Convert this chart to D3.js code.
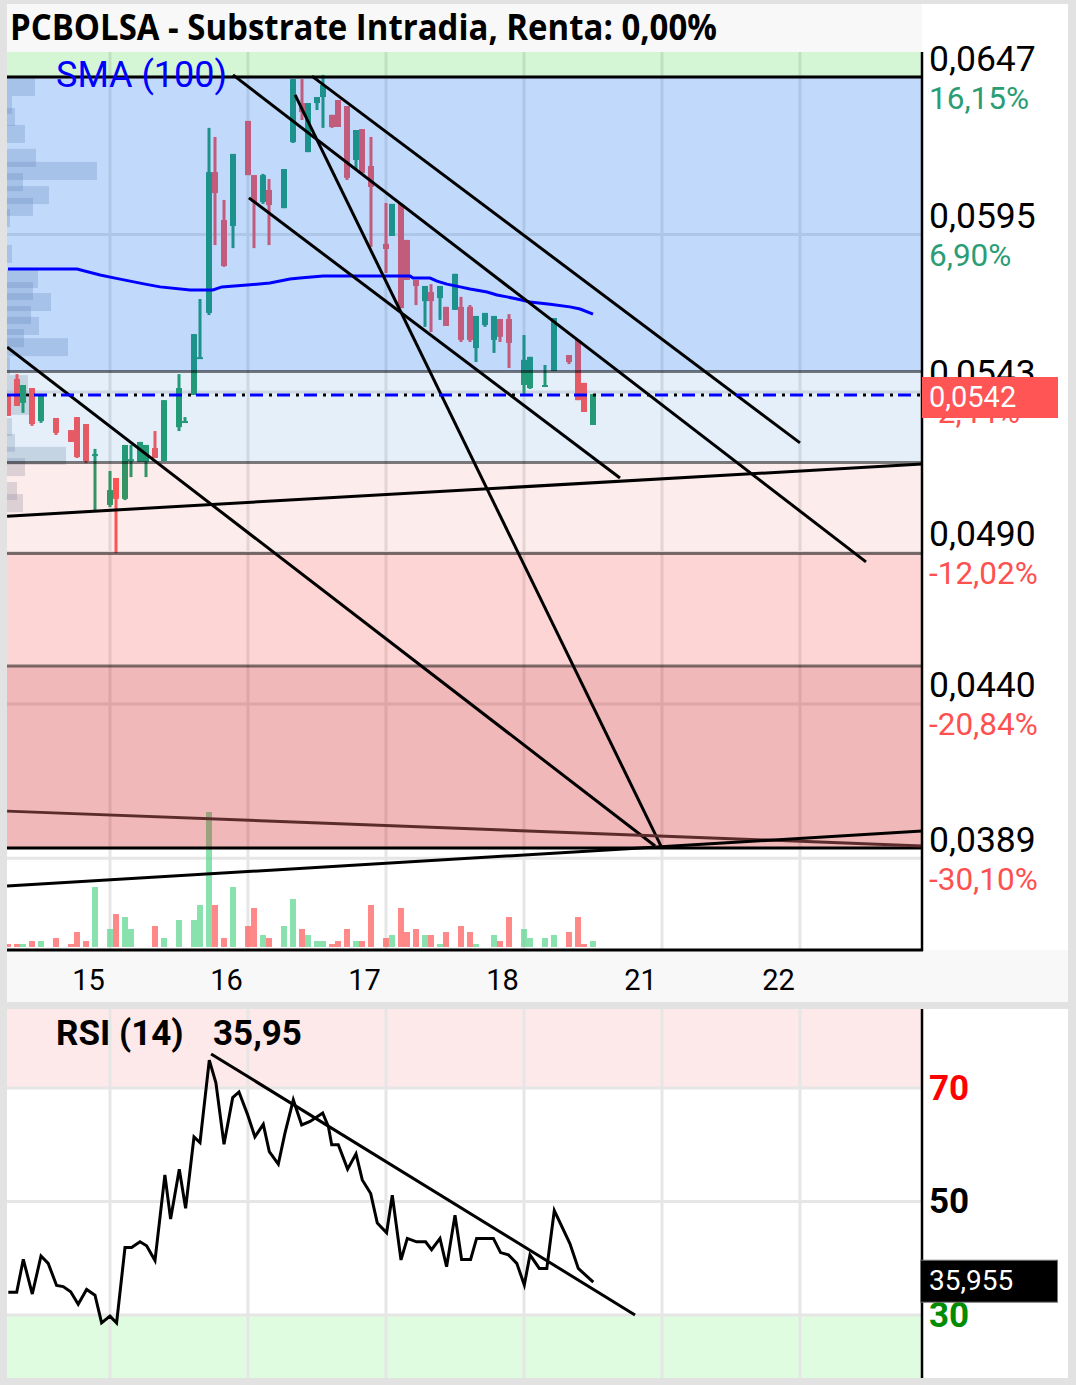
<!DOCTYPE html>
<html><head><meta charset="utf-8">
<script src="https://cdn.jsdelivr.net/npm/d3@7"></script>
<style>body{margin:0;background:#e2e2e2}svg{display:block}</style>
</head><body><svg id="c" width="1076" height="1385"></svg>
<script>
// ---------------- DATA ----------------
const titleText = "PCBOLSA - Substrate Intradia, Renta: 0,00%";
const dayLabels = ["15","16","17","18","21","22"];
const daySlots = [0,46,92,138,184,230];

const candleSlot = [-34,-31,-29,-26,-23,-18,-13,-11,-8,-5,0,2,5,7,10,12,15,18,23,25,28,30,33,35,38,41,46,48,51,53,58,61,64,66,69,71,74,76,79,82,84,87,92,94,97,99,102,105,107,110,112,115,117,120,122,125,128,130,133,138,140,145,148,153,156,158,161];
const candleOpen = [0.05420,0.05473,0.05394,0.05443,0.05334,0.05344,0.05304,0.05347,0.05324,0.05222,0.05057,0.05146,0.05077,0.05205,0.05199,0.05199,0.05245,0.05202,0.05314,0.05331,0.05420,0.05539,0.05691,0.06156,0.05998,0.05978,0.06325,0.06146,0.06057,0.06097,0.06037,0.06255,0.06384,0.06222,0.06384,0.06404,0.06345,0.06394,0.06374,0.06196,0.06298,0.06176,0.05919,0.05945,0.06051,0.05932,0.05800,0.05730,0.05760,0.05740,0.05711,0.05701,0.05711,0.05711,0.05575,0.05651,0.05602,0.05671,0.05671,0.05453,0.05443,0.05450,0.05499,0.05552,0.05602,0.05460,0.05321];
const candleHigh = [0.05420,0.05489,0.05453,0.05443,0.05423,0.05344,0.05304,0.05347,0.05324,0.05242,0.05169,0.05146,0.05255,0.05255,0.05265,0.05255,0.05301,0.05403,0.05489,0.05347,0.05621,0.05737,0.06302,0.06272,0.06064,0.06216,0.06325,0.06146,0.06150,0.06133,0.06166,0.06463,0.06463,0.06384,0.06404,0.06477,0.06345,0.06394,0.06374,0.06295,0.06298,0.06272,0.06054,0.06051,0.06051,0.05932,0.05800,0.05780,0.05786,0.05780,0.05711,0.05820,0.05744,0.05717,0.05681,0.05691,0.05681,0.05671,0.05687,0.05618,0.05546,0.05519,0.05674,0.05552,0.05602,0.05460,0.05423];
const candleLow = [0.05351,0.05384,0.05361,0.05318,0.05328,0.05288,0.05265,0.05212,0.05195,0.05040,0.05050,0.04898,0.05073,0.05149,0.05199,0.05149,0.05212,0.05202,0.05301,0.05331,0.05420,0.05539,0.05684,0.05915,0.05843,0.05905,0.06146,0.05905,0.06051,0.05915,0.06037,0.06252,0.06328,0.06222,0.06361,0.06302,0.06302,0.06305,0.06130,0.06163,0.06153,0.05909,0.05823,0.05945,0.05707,0.05800,0.05717,0.05645,0.05628,0.05668,0.05648,0.05701,0.05595,0.05595,0.05529,0.05645,0.05559,0.05595,0.05509,0.05420,0.05440,0.05450,0.05499,0.05522,0.05403,0.05364,0.05321];
const candleClose = [0.05351,0.05384,0.05453,0.05324,0.05423,0.05295,0.05265,0.05215,0.05202,0.05225,0.05106,0.05077,0.05255,0.05208,0.05265,0.05255,0.05212,0.05403,0.05443,0.05334,0.05621,0.05545,0.06156,0.06087,0.05846,0.06216,0.06146,0.06057,0.06146,0.06047,0.06166,0.06463,0.06354,0.06384,0.06404,0.06444,0.06305,0.06305,0.06137,0.06295,0.06153,0.06107,0.05902,0.06051,0.05707,0.05800,0.05780,0.05780,0.05730,0.05780,0.05648,0.05820,0.05602,0.05602,0.05681,0.05691,0.05681,0.05612,0.05592,0.05536,0.05546,0.05453,0.05674,0.05529,0.05403,0.05364,0.05423];
const candleVolume = [1,1,1,2,2,3,1,5,2,20,6,11,10,6,0,0,7,3,9,0,9,14,45,14,3,20,7,13,4,3,7,16,6,4,2,2,1,2,6,2,2,14,3,4,13,5,6,4,4,1,5,0,7,5,1,0,4,2,10,6,3,3,4,5,10,1,2];

const smaSlot = [-34,-11,-3.3,1.7,6.7,11.7,16.7,26.7,34.3,37.3,45.7,53.3,60,63.3,71,100,101,106.7,109,112.3,116.7,120,125.7,129,132.3,135.7,140,146.7,153.3,156.7,161];
const smaValue = [0.05836,0.05836,0.05816,0.05806,0.05796,0.05786,0.05777,0.05767,0.05767,0.05777,0.05783,0.05790,0.05803,0.05806,0.05813,0.05813,0.05806,0.05806,0.05796,0.05786,0.05777,0.05770,0.05760,0.05750,0.05744,0.05737,0.05727,0.05720,0.05711,0.05704,0.05687];

const rsiSlot = [-33.9,-31.1,-28.9,-25.9,-23,-20.6,-17.8,-15.6,-13.1,-10.6,-7.8,-5,-2.8,0,2.2,5,7.2,10,12.2,15,18.3,20.2,23.1,25.2,28,30,33.1,35.3,38,40.9,43,45.8,48.3,51.1,53.1,56.1,58.3,61.1,63.9,66.7,70.9,72.8,73.9,76.1,79.2,82,84.1,86.9,89.1,92.2,94.1,97,99.1,102.2,105.2,107.2,110,112.2,115,117.2,120.2,122.2,127.8,130.2,132.8,135.6,138.1,140,143.1,145.6,148.1,153.3,156.1,161.1];
const rsiValue = [34.0,34.0,39.8,33.7,40.4,39.1,35.2,35.0,34.1,31.9,34.5,33.5,28.6,29.8,28.6,41.9,41.9,42.9,42.2,39.6,54.7,46.9,55.7,48.8,61.4,60.4,74.9,70.9,60.1,68.3,69.3,65.4,61.4,63.6,58.8,56.6,62.0,67.9,63.5,64.1,65.6,63.2,60.0,60.0,55.7,58.4,53.8,51.4,46.2,44.5,51.1,39.7,43.5,42.9,42.9,41.5,43.5,38.5,47.6,39.8,39.8,43.5,43.5,41.0,40.6,39.1,35.3,40.6,38.2,38.2,48.4,42.6,38.2,35.8];

const trendStartSlot = [41,67.3,46.3,61.7,-34.3,-34.3,-34.3,-34.3];
const trendStartPrice = [0.06477,0.06473,0.06071,0.06411,0.05578,0.05020,0.04046,0.03799];
const trendEndSlot = [252,230,170,184,181.7,270.7,270.7,270.7];
const trendEndPrice = [0.04869,0.05262,0.05146,0.03924,0.03931,0.05192,0.03931,0.03980];

const rsiTrendSlot = [33.7,175];
const rsiTrendValue = [76.0,30.0];

const profilePrice = [0.06437,0.06378,0.06338,0.06282,0.06203,0.06160,0.06123,0.06080,0.06041,0.06004,0.05886,0.05803,0.05763,0.05727,0.05684,0.05648,0.05608,0.05578,0.05516,0.05456,0.05384,0.05314,0.05262,0.05219,0.05182,0.05103,0.05063];
const profileVolume = [28,5,8,18,29,90,16,42,26,3,5,31,26,44,24,32,17,61,3,21,28,5,8,59,18,10,16];

const fibHigh = 0.0647, fibLow = 0.03924;
const fibRatios = [0,0.382,0.5,0.618,0.764,1];

const priceTicks = [0.0647,0.0595,0.0543,0.0490,0.0440,0.0389];
const priceTickLabels = ["0,0647","0,0595","0,0543","0,0490","0,0440","0,0389"];
const pctLabels = ["16,15%","6,90%","-2,44%","-12,02%","-20,84%","-30,10%"];
const lastPrice = 0.0542, lastPriceLabel = "0,0542";
const rsiTicks = [70,50,30];
const rsiTickLabels = ["70","50","30"];
const rsiLast = 35.955, rsiLastLabel = "35,955", rsiHeaderValue = "35,95";

// ---------------- SCALES ----------------
const X0 = 7, X1 = 922;
const x = d3.scaleLinear().domain([-34.333, 270.667]).range([X0, X1]);
const y = d3.scaleLinear().domain([0.0647, 0.0542]).range([77, 395]);
const yv = d3.scaleLinear().domain([0, 45]).range([947, 812]);
const yr = d3.scaleLinear().domain([30, 70]).range([1315, 1088]);
const pw = d3.scaleLinear().domain([0, 90]).range([0, 90]);

const svg = d3.select("#c");
const FONT = "Roboto, 'Noto Sans', sans-serif";
const G = "#27a06e", R = "#ff5a5a";

// backgrounds
svg.append("rect").attr("width",1076).attr("height",1385).attr("fill","#e2e2e2");
svg.append("rect").attr("x",7).attr("y",4).attr("width",915).attr("height",48).attr("fill","#f8f8f8");
svg.append("rect").attr("x",922).attr("y",4).attr("width",146).attr("height",948).attr("fill","#fff");
svg.append("rect").attr("x",7).attr("y",52).attr("width",915).attr("height",898).attr("fill","#fff");
svg.append("rect").attr("x",7).attr("y",950).attr("width",1061).attr("height",52).attr("fill","#f8f8f8");
svg.append("rect").attr("x",7).attr("y",1009).attr("width",1061).attr("height",369).attr("fill","#fff");

const defs = svg.append("defs");
defs.append("clipPath").attr("id","mc").append("rect").attr("x",X0).attr("y",52).attr("width",X1-X0).attr("height",898);
defs.append("clipPath").attr("id","rc").append("rect").attr("x",X0).attr("y",1009).attr("width",X1-X0).attr("height",369);

// title
svg.append("text").attr("x",10).attr("y",40).text(titleText)
  .attr("font-family","'Open Sans', Roboto, sans-serif").attr("font-weight","bold").attr("font-size",35)
  .attr("textLength",707).attr("lengthAdjust","spacingAndGlyphs").attr("fill","#000");

// ---------------- MAIN PANEL ----------------
const main = svg.append("g").attr("clip-path","url(#mc)");

// grid
main.selectAll(".vg").data(daySlots).join("line").attr("class","vg")
  .attr("x1",d=>x(d)).attr("x2",d=>x(d)).attr("y1",52).attr("y2",950)
  .attr("stroke","#e6e6e6").attr("stroke-width",3);
main.selectAll(".hg").data(priceTicks).join("line").attr("class","hg")
  .attr("x1",X0).attr("x2",X1).attr("y1",d=>y(d)).attr("y2",d=>y(d))
  .attr("stroke","#e6e6e6").attr("stroke-width",3);

// volume profile
main.selectAll(".vp").data(profilePrice).join("rect").attr("class","vp")
  .attr("x",X0).attr("y",d=>y(d)-9).attr("height",18)
  .attr("width",(d,i)=>pw(profileVolume[i]))
  .attr("fill","rgb(120,135,160)").attr("fill-opacity",0.25);

// candles
const candles = candleSlot.map((s,i)=>({s,o:candleOpen[i],h:candleHigh[i],l:candleLow[i],c:candleClose[i],v:candleVolume[i]}));
const col = d => d.c >= d.o ? G : R;
main.selectAll(".wick").data(candles).join("rect").attr("class","wick")
  .attr("x",d=>x(d.s)-1.5).attr("width",3)
  .attr("y",d=>y(d.h)).attr("height",d=>Math.max(1,y(d.l)-y(d.h))).attr("fill",col);
main.selectAll(".body").data(candles).join("rect").attr("class","body")
  .attr("x",d=>x(d.s)-3).attr("width",6)
  .attr("y",d=>y(Math.max(d.o,d.c))).attr("height",d=>Math.max(2,Math.abs(y(d.o)-y(d.c)))).attr("fill",col);

// volume bars
main.selectAll(".vol").data(candles.filter(d=>d.v>0)).join("rect").attr("class","vol")
  .attr("x",d=>x(d.s)-3).attr("width",6)
  .attr("y",d=>yv(d.v)).attr("height",d=>yv(0)-yv(d.v))
  .attr("fill",d=>d.c>=d.o?"#5cd68f":"#ff5a5a").attr("fill-opacity",0.72);

// fib zones (translucent overlays)
const fibPrices = fibRatios.map(r=>fibHigh - r*(fibHigh-fibLow));
const zoneFills = ["rgba(0,200,0,0.17)","rgba(0,100,235,0.245)","rgba(0,100,200,0.105)","rgba(230,0,0,0.075)","rgba(240,0,0,0.165)","rgba(200,0,0,0.28)"];
const zoneEdges = [52].concat(fibPrices.map(p=>y(p)));
main.selectAll(".zone").data(zoneFills).join("rect").attr("class","zone")
  .attr("x",X0).attr("width",X1-X0)
  .attr("y",(d,i)=>zoneEdges[i]).attr("height",(d,i)=>zoneEdges[i+1]-zoneEdges[i])
  .attr("fill",d=>d);
main.selectAll(".fib").data(fibPrices).join("line").attr("class","fib")
  .attr("x1",X0).attr("x2",X1).attr("y1",d=>y(d)).attr("y2",d=>y(d))
  .attr("stroke",(d,i)=>(i===0||i===fibPrices.length-1)?"#000":"rgba(0,0,0,0.5)")
  .attr("stroke-width",3);

// SMA
const smaLine = d3.line().x(d=>x(d[0])).y(d=>y(d[1]));
main.append("path").datum(smaSlot.map((s,i)=>[s,smaValue[i]]))
  .attr("d",smaLine).attr("fill","none").attr("stroke","#0000ff").attr("stroke-width",3);

// trend lines
main.selectAll(".tl").data(trendStartSlot).join("line").attr("class","tl")
  .attr("x1",(d,i)=>x(trendStartSlot[i])).attr("y1",(d,i)=>y(trendStartPrice[i]))
  .attr("x2",(d,i)=>x(trendEndSlot[i])).attr("y2",(d,i)=>y(trendEndPrice[i]))
  .attr("stroke",(d,i)=>i===6?"#5c2c2c":"#000").attr("stroke-width",3);

// last price dashed line
main.append("line").attr("x1",X0).attr("x2",X1).attr("y1",y(lastPrice)).attr("y2",y(lastPrice))
  .attr("stroke","#0000ff").attr("stroke-width",3).attr("stroke-dasharray","13,14");
main.append("line").attr("x1",X0).attr("x2",X1).attr("y1",y(lastPrice)).attr("y2",y(lastPrice))
  .attr("stroke","#000").attr("stroke-width",3).attr("stroke-dasharray","3,24").attr("stroke-dashoffset",8);

// SMA label
svg.append("text").attr("x",56).attr("y",87).text("SMA (100)")
  .attr("font-family",FONT).attr("font-size",36).attr("fill","#0000ff");

// axis lines
svg.append("line").attr("x1",X1).attr("x2",X1).attr("y1",52).attr("y2",951).attr("stroke","#000").attr("stroke-width",2.5);
svg.append("line").attr("x1",X0).attr("x2",X1+1).attr("y1",950).attr("y2",950).attr("stroke","#000").attr("stroke-width",3);

// price axis
const pAxis = svg.append("g").attr("transform",`translate(${X1},0)`)
  .call(d3.axisRight(y).tickValues(priceTicks).tickFormat((d,i)=>priceTickLabels[i]).tickSize(0));
pAxis.select(".domain").remove();
pAxis.selectAll(".tick text").attr("x",7).attr("dy",0).attr("y",-7)
  .attr("font-family",FONT).attr("font-size",35.5).attr("fill","#000").attr("text-anchor","start");
pAxis.selectAll(".tick").append("text").attr("x",7).attr("y",31)
  .text((d,i)=>pctLabels[i]).attr("font-family",FONT).attr("font-size",31.5)
  .attr("fill",(d,i)=>pctLabels[i].startsWith("-")?"#ff5050":"#2a9d74").attr("text-anchor","start");

// last price box
svg.append("rect").attr("x",X1).attr("y",y(lastPrice)-18).attr("width",136).attr("height",41).attr("fill","#ff5555");
svg.append("text").attr("x",929).attr("y",y(lastPrice)+12).text(lastPriceLabel)
  .attr("font-family",FONT).attr("font-size",29).attr("fill","#fff");

// day axis
const dAxis = svg.append("g").attr("transform","translate(0,950)")
  .call(d3.axisBottom(x).tickValues(daySlots).tickFormat((d,i)=>dayLabels[i]).tickSize(0));
dAxis.select(".domain").remove();
dAxis.selectAll(".tick text").attr("x",-22).attr("dy",0).attr("y",40)
  .attr("font-family",FONT).attr("font-size",29).attr("fill","#000");

// ---------------- RSI PANEL ----------------
const rsiG = svg.append("g").attr("clip-path","url(#rc)");
rsiG.append("rect").attr("x",X0).attr("y",1009).attr("width",X1-X0).attr("height",yr(70)-1009).attr("fill","#fde9e9");
rsiG.append("rect").attr("x",X0).attr("y",yr(30)).attr("width",X1-X0).attr("height",1378-yr(30)).attr("fill","#e0fce0");
rsiG.selectAll(".rvg").data(daySlots).join("line").attr("class","rvg")
  .attr("x1",d=>x(d)).attr("x2",d=>x(d)).attr("y1",1009).attr("y2",1378)
  .attr("stroke","#e6e6e6").attr("stroke-width",3);
rsiG.selectAll(".rhg").data(rsiTicks).join("line").attr("class","rhg")
  .attr("x1",X0).attr("x2",X1).attr("y1",d=>yr(d)).attr("y2",d=>yr(d))
  .attr("stroke","#e6e6e6").attr("stroke-width",3);
const rsiLine = d3.line().x(d=>x(d[0])).y(d=>yr(d[1]));
rsiG.append("path").datum(rsiSlot.map((s,i)=>[s,rsiValue[i]]))
  .attr("d",rsiLine).attr("fill","none").attr("stroke","#000").attr("stroke-width",3).attr("stroke-linejoin","miter");
rsiG.append("line")
  .attr("x1",x(rsiTrendSlot[0])).attr("y1",yr(rsiTrendValue[0]))
  .attr("x2",x(rsiTrendSlot[1])).attr("y2",yr(rsiTrendValue[1]))
  .attr("stroke","#000").attr("stroke-width",3);

svg.append("line").attr("x1",X1).attr("x2",X1).attr("y1",1009).attr("y2",1378).attr("stroke","#000").attr("stroke-width",2.5);

const rAxis = svg.append("g").attr("transform",`translate(${X1},0)`)
  .call(d3.axisRight(yr).tickValues(rsiTicks).tickFormat((d,i)=>rsiTickLabels[i]).tickSize(0));
rAxis.select(".domain").remove();
rAxis.selectAll(".tick text").attr("x",7).attr("dy",0).attr("y",11)
  .attr("font-family",FONT).attr("font-size",35).attr("font-weight","bold")
  .attr("fill",(d,i)=>["#ff0000","#000","#008c00"][i]).attr("text-anchor","start");

svg.append("rect").attr("x",920.5).attr("y",yr(rsiLast)-21).attr("width",137).attr("height",42)
  .attr("fill","#000").attr("stroke","#777").attr("stroke-width",1);
svg.append("text").attr("x",929).attr("y",yr(rsiLast)+9).text(rsiLastLabel)
  .attr("font-family",FONT).attr("font-size",28).attr("fill","#fff");

svg.append("text").attr("x",56).attr("y",1045).text("RSI (14)")
  .attr("font-family",FONT).attr("font-size",35).attr("font-weight","bold").attr("fill","#000");
svg.append("text").attr("x",213).attr("y",1045).text(rsiHeaderValue)
  .attr("font-family",FONT).attr("font-size",35).attr("font-weight","bold").attr("fill","#000");
</script></body></html>
